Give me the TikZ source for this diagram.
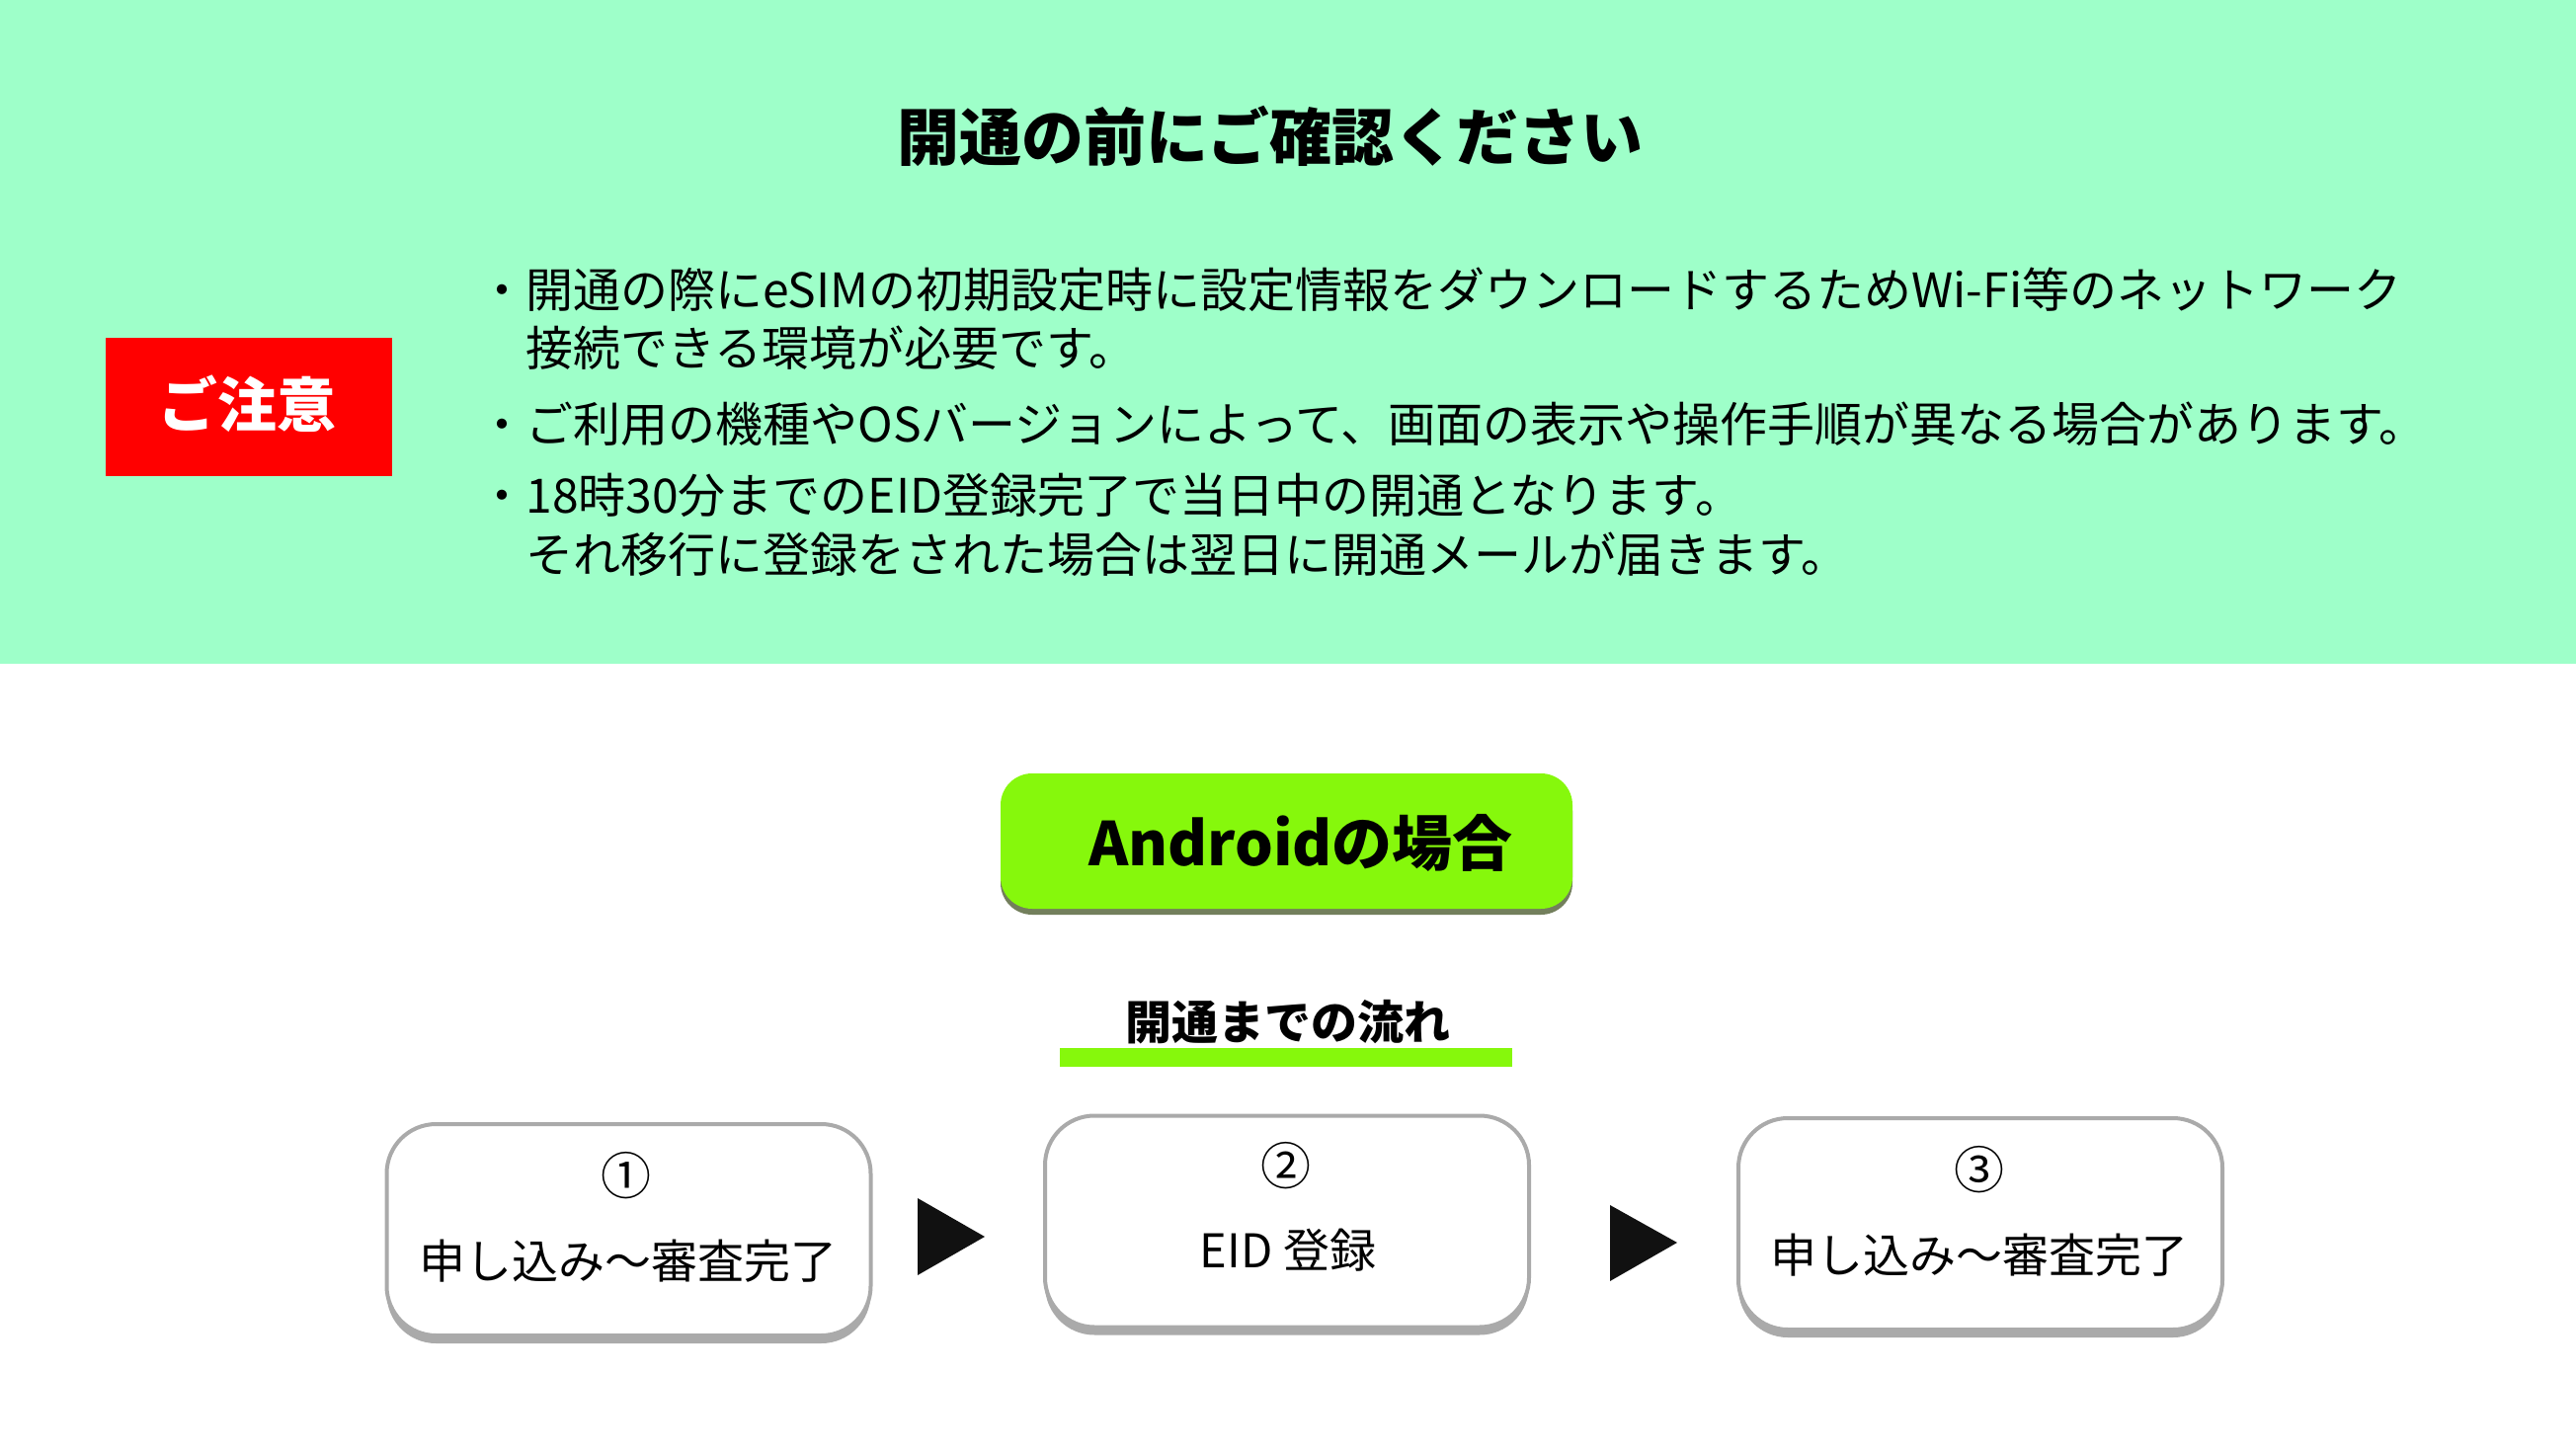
\documentclass[tikz,border=0pt]{standalone}
\usepackage{fontspec}
\setmainfont{Noto Sans CJK JP}
\usetikzlibrary{shadows}
\definecolor{bandgreen}{HTML}{9EFFC9}
\definecolor{cautionred}{HTML}{FF0000}
\definecolor{androidgreen}{HTML}{86F80C}
\definecolor{shadowolive}{HTML}{737F5C}
\definecolor{boxgray}{HTML}{AAAAAA}
\definecolor{arrowblack}{HTML}{111111}
\tikzset{
  body/.style={font=\fontsize{24}{29}\selectfont, anchor=base west, inner sep=0},
  stepbox/.style={draw=boxgray, line width=2pt, fill=white, rounded corners=25pt,
    minimum width=245pt, minimum height=107pt, inner sep=0,
    drop shadow={shadow xshift=0pt, shadow yshift=-4pt, fill=boxgray, opacity=1}},
  steptext/.style={font=\fontsize{23.5}{28}\selectfont, anchor=base, inner sep=0},
  stepnum/.style={font=\fontsize{25.5}{30}\selectfont, anchor=base, inner sep=0},
  flowarrow/.style={fill=arrowblack},
}
\begin{document}
\begin{tikzpicture}[x=0.5pt,y=-0.5pt]
\useasboundingbox (0,0) rectangle (2608,1471);
\fill[white] (0,0) rectangle (2608,1471);
\fill[bandgreen] (0,0) rectangle (2608,672);

% header
\node[font=\bfseries\fontsize{31.5}{38}\selectfont, anchor=base, inner sep=0] (title) at (1286,163) {開通の前にご確認ください};

\node[fill=cautionred, minimum width=145pt, minimum height=70pt, inner sep=0] (caution) at (251.5,412) {};
\node[font=\bfseries\fontsize{30}{36}\selectfont, text=white, anchor=base, inner sep=0] (cautiontext) at (250,432) {ご注意};

\node[body] (l1) at (484,312) {・開通の際にeSIMの初期設定時に設定情報をダウンロードするためWi-Fi等のネットワーク};
\node[body] (l2) at (532,371) {接続できる環境が必要です。};
\node[body] (l3) at (484,447) {・ご利用の機種やOSバージョンによって、画面の表示や操作手順が異なる場合があります。};
\node[body] (l4) at (484,519) {・18時30分までのEID登録完了で当日中の開通となります。};
\node[body] (l5) at (532,579) {それ移行に登録をされた場合は翌日に開通メールが届きます。};

% android
\node[fill=androidgreen, rounded corners=16pt, minimum width=289.5pt, minimum height=68.5pt, inner sep=0,
  drop shadow={shadow xshift=0pt, shadow yshift=-3pt, fill=shadowolive, opacity=1}] (android) at (1302.5,851.5) {};
\node[font=\bfseries\fontsize{30.5}{36}\selectfont, anchor=base, inner sep=0] (androidtext) at (1317,876) {Androidの場合};

\node[font=\bfseries\fontsize{23.5}{28}\selectfont, anchor=base, inner sep=0] (flowtitle) at (1304,1052) {開通までの流れ};
\node[fill=androidgreen, minimum width=229pt, minimum height=9.5pt, inner sep=0] (flowbar) at (1302,1070.5) {};

% steps
\node[stepbox] (s1) at (636.5,1245) {};
\node[stepbox] (s2) at (1303,1236.5) {};
\node[stepbox] (s3) at (2005,1239) {};

\node[stepnum] (n1) at (634,1209) {①};
\node[steptext] (t1) at (636,1294) {申し込み〜審査完了};
\node[stepnum] (n2) at (1302,1199) {②};
\node[steptext] (t2) at (1304,1283) {EID 登録};
\node[stepnum] (n3) at (2004,1203) {③};
\node[steptext] (t3) at (2004,1288) {申し込み〜審査完了};

% arrows
\coordinate (a1t) at (929,1213);
\coordinate (a1p) at (997,1252);
\coordinate (a1b) at (929,1291);
\fill[flowarrow] (a1t) -- (a1p) -- (a1b) -- cycle;
\coordinate (a2t) at (1630,1220);
\coordinate (a2p) at (1698,1258);
\coordinate (a2b) at (1630,1297);
\fill[flowarrow] (a2t) -- (a2p) -- (a2b) -- cycle;
\end{tikzpicture}
\end{document}
